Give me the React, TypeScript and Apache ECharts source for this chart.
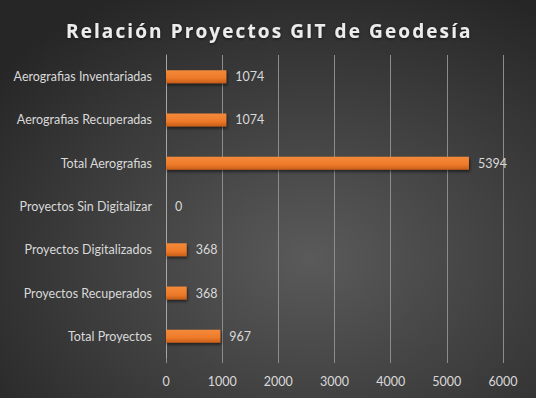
import React, { useEffect, useRef } from "react";
import * as echarts from "echarts";

const categories = [
  "Total Proyectos",
  "Proyectos Recuperados",
  "Proyectos Digitalizados",
  "Proyectos Sin Digitalizar",
  "Total Aerografias",
  "Aerografias Recuperadas",
  "Aerografias Inventariadas",
];
const values = [967, 368, 368, 0, 5394, 1074, 1074];
const xTicks = { min: 0, max: 6000, interval: 1000 };
const title = "Relación Proyectos GIT de Geodesía";

export default function App() {
  const ref = useRef<HTMLDivElement>(null);
  useEffect(() => {
    document.body.style.margin = "0";
    if (!ref.current) return;
    const chart = echarts.init(ref.current, null, { renderer: "svg" });
    chart.setOption({
      animation: false,
      backgroundColor: {
        type: "radial",
        x: 0.58,
        y: 0.65,
        r: 0.75,
        colorStops: [
          { offset: 0, color: "#5a5a5a" },
          { offset: 1, color: "#262626" },
        ],
      },
      title: {
        text: title,
        left: 61,
        top: 16,
        textStyle: {
          fontFamily: "Open Sans",
          fontWeight: "bold",
          fontSize: 19,
          color: "#ececec",
          textShadowColor: "rgba(0,0,0,0.6)",
          textShadowBlur: 3,
          textShadowOffsetY: 1,
        },
      },
      grid: { left: 166, right: 33, top: 55, bottom: 40, containLabel: false },
      xAxis: {
        type: "value",
        min: xTicks.min,
        max: xTicks.max,
        interval: xTicks.interval,
        axisLine: { show: false },
        axisTick: { show: true, length: 5, lineStyle: { color: "#8c8c8c" } },
        splitLine: { show: true, lineStyle: { color: "#8c8c8c", width: 1 } },
        axisLabel: {
          color: "#d9d9d9",
          fontFamily: "Lato",
          fontSize: 12.5,
          margin: 17,
          formatter: (v: number) => String(v),
        },
      },
      yAxis: {
        type: "category",
        data: categories,
        axisLine: { show: true, lineStyle: { color: "#a6a6a6" } },
        axisTick: { show: false },
        axisLabel: {
          color: "#d9d9d9",
          fontFamily: "Lato",
          fontSize: 12.5,
          margin: 14,
        },
      },
      series: [
        {
          type: "bar",
          data: values,
          barWidth: 13,
          itemStyle: {
            color: {
              type: "linear",
              x: 0,
              y: 0,
              x2: 0,
              y2: 1,
              colorStops: [
                { offset: 0, color: "#f48a3a" },
                { offset: 0.6, color: "#ee7a2a" },
                { offset: 1, color: "#c85e18" },
              ],
            },
            shadowColor: "rgba(0,0,0,0.55)",
            shadowBlur: 3,
            shadowOffsetY: 2,
            shadowOffsetX: 1,
          },
          label: {
            show: true,
            position: "right",
            distance: 9,
            color: "#d9d9d9",
            fontFamily: "Lato",
            fontSize: 12.5,
          },
        },
      ],
    });
    const texts = ref.current.querySelectorAll("text");
    texts.forEach((t) => {
      if (t.textContent === title) {
        (t as SVGTextElement).style.letterSpacing = "2.1px";
      }
    });
    return () => chart.dispose();
  }, []);
  return <div ref={ref} style={{ width: 536, height: 398 }} />;
}
